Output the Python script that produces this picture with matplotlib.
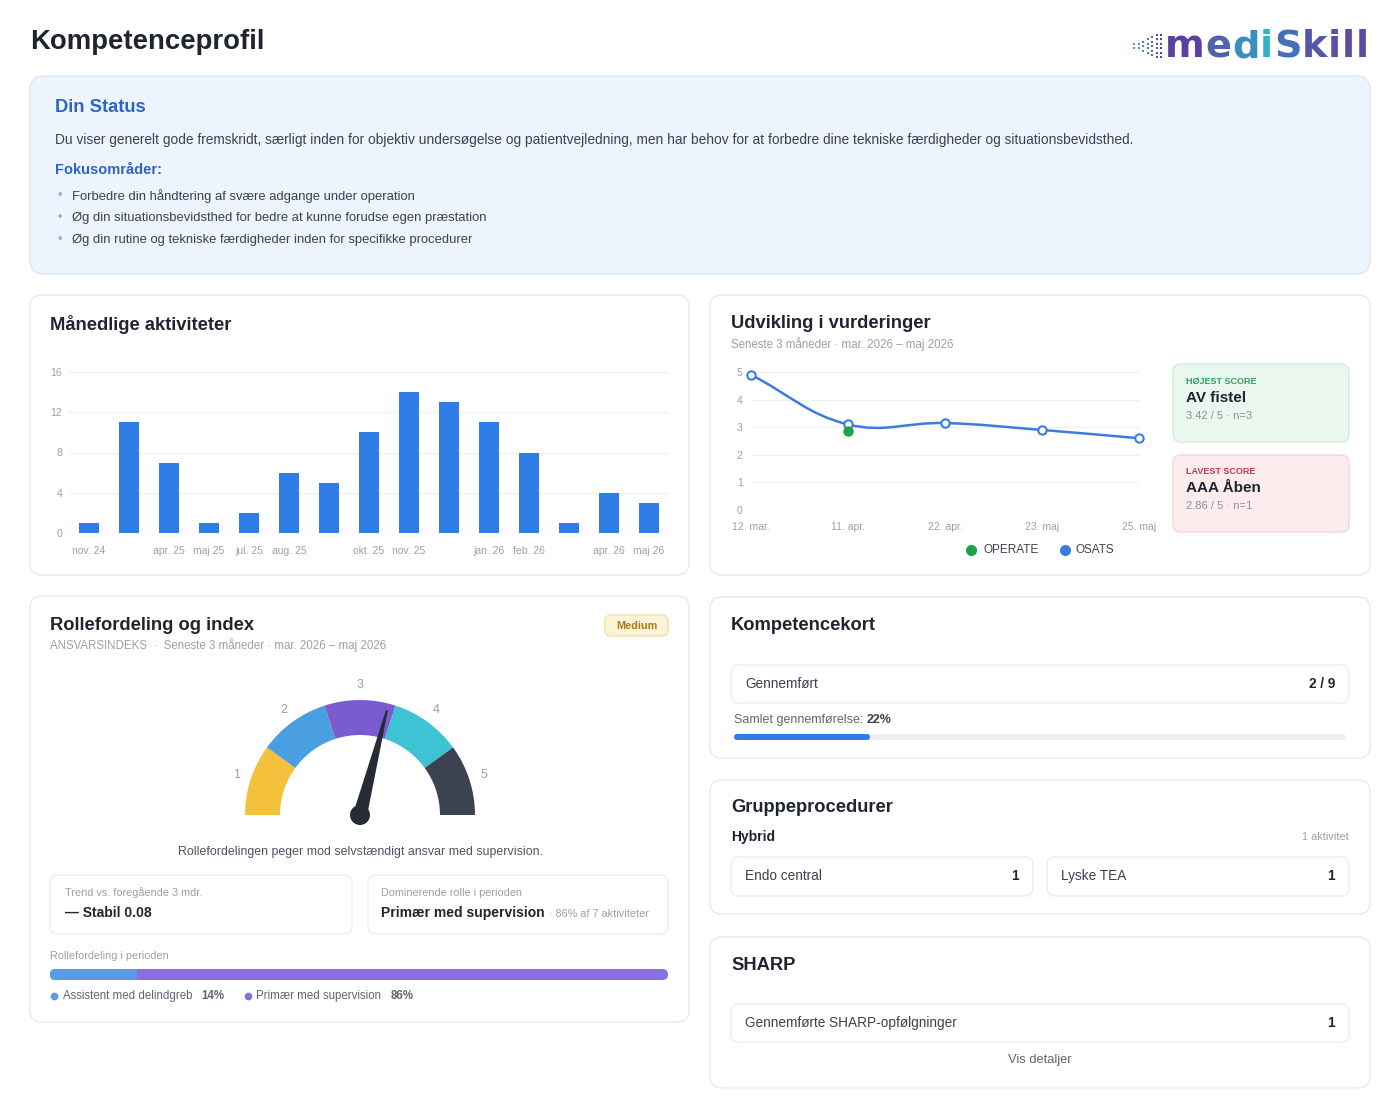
import numpy as np
import matplotlib.pyplot as plt
from matplotlib.patches import FancyBboxPatch, Wedge, Polygon, Circle, PathPatch, Rectangle
from matplotlib.path import Path

plt.rcParams['font.family'] = ['Liberation Sans', 'DejaVu Sans']

# ---- data ----
status_text = ("Du viser generelt gode fremskridt, særligt inden for objektiv undersøgelse og "
               "patientvejledning, men har behov for at forbedre dine tekniske færdigheder og "
               "situationsbevidsthed.")
focus_items = ["Forbedre din håndtering af svære adgange under operation",
               "Øg din situationsbevidsthed for bedre at kunne forudse egen præstation",
               "Øg din rutine og tekniske færdigheder inden for specifikke procedurer"]

month_labels = ['nov. 24', '', 'apr. 25', 'maj 25', 'jul. 25', 'aug. 25', '', 'okt. 25',
                'nov. 25', '', 'jan. 26', 'feb. 26', '', 'apr. 26', 'maj 26']
month_counts = [1, 11, 7, 1, 2, 6, 5, 10, 14, 13, 11, 8, 1, 4, 3]

eval_dates = ['12. mar.', '11. apr.', '22. apr.', '23. maj', '25. maj']
osats_scores = [4.9, 3.1, 3.15, 2.9, 2.6]
operate_idx = [1]
operate_scores = [2.85]

best_proc, best_score, best_n = 'AV fistel', 3.42, 3
worst_proc, worst_score, worst_n = 'AAA Åben', 2.86, 1

gauge_levels = [1, 2, 3, 4, 5]
gauge_colors = ['#f4c13d', '#4a9fe0', '#7a5bd0', '#3dc3d3', '#3b4252']
responsibility_index = 3.4
trend_value = 0.08

role_names = ['Assistent med delindgreb', 'Primær med supervision']
role_share = [14, 86]
role_colors = ['#5b9be6', '#8a6fe0']
n_activities = 7

cards_done, cards_total = 2, 9
group_name = 'Hybrid'
group_procs = ['Endo central', 'Lyske TEA']
group_counts = [1, 1]
sharp_count = 1

# ---- colours ----
DARK = '#1f2430'
BODY = '#3a4150'
GRAY = '#9aa0a8'
MID = '#5f6672'
BLUE = '#2f7de8'
EDGE = '#e6e9ee'

W, H = 1400, 1115
fig = plt.figure(figsize=(14, 11.15), dpi=100)
bg = fig.add_axes([0, 0, 1, 1])
bg.set_xlim(0, W)
bg.set_ylim(H, 0)
bg.axis('off')
renderer = fig.canvas.get_renderer()


def card(x0, y0, x1, y1, fc='white', ec=EDGE, r=12, lw=1.0, z=1):
    p = FancyBboxPatch((x0, y0), x1 - x0, y1 - y0,
                       boxstyle=f"round,pad=0,rounding_size={r}",
                       fc=fc, ec=ec, lw=lw, zorder=z)
    bg.add_patch(p)


def txt(x, y, s, size=10, color=BODY, weight='normal', ha='left', **kw):
    return bg.text(x, y, s, fontsize=size, color=color, fontweight=weight,
                   ha=ha, va='center', zorder=5, **kw)


def width(t):
    return t.get_window_extent(renderer=renderer).width


# ---- header ----
txt(30, 42, 'Kompetenceprofil', size=19.8, color=DARK, weight='bold')

# logo: dot grid + lettering
dot_heights = [2, 2, 3, 4, 5, 6, 6]
for i, h in enumerate(dot_heights):
    ys = 46 + 4.5 * (np.arange(h) - (h - 1) / 2)
    f = i / (len(dot_heights) - 1)
    rgb = (1 - f) * np.array([0.17, 0.71, 0.78]) + f * np.array([0.37, 0.25, 0.62])
    bg.scatter([1134 + 4.5 * i] * h, ys, s=4, marker='s', color=rgb, zorder=5, lw=0)
logo_parts = [('m', '#5d3f9f'), ('e', '#4f63ad'), ('d', '#3b8fbd'), ('i', '#2db3c4'),
              ('S', '#4670b6'), ('k', '#5457a8'), ('i', '#5b4ea3'), ('l', '#5e4aa2'), ('l', '#5e4aa2')]
lx = 1165
for ch, c in logo_parts:
    t = bg.text(lx, 57, ch, fontsize=27.5, fontweight='bold', family='DejaVu Sans',
                color=c, ha='left', va='baseline', zorder=5)
    lx += width(t) + 0.6

# ---- Din Status ----
card(30, 76, 1370, 274, fc='#eef4fe', ec='#d9e6fb', r=14)
txt(55, 108, 'Din Status', size=13.2, color='#2b66c6', weight='bold')
txt(55, 140, status_text, size=9.9, color=BODY)
txt(55, 170, 'Fokusområder:', size=10.5, color='#2b66c6', weight='bold')
for k, item in enumerate(focus_items):
    yy = 196 + 22 * k
    txt(57, yy, '•', size=9, color='#8fb0e0')
    txt(72, yy, item, size=9.4, color=BODY)

# ---- Månedlige aktiviteter ----
card(30, 295, 689, 575)
txt(50, 324, 'Månedlige aktiviteter', size=13.2, color=DARK, weight='bold')
ax1 = fig.add_axes([69 / W, 1 - 533 / H, 600 / W, 161 / H])
ax1.bar(range(len(month_counts)), month_counts, width=0.5, color=BLUE, zorder=3)
ax1.set_xlim(-0.5, len(month_counts) - 0.5)
ax1.set_ylim(0, 16)
ax1.set_yticks([0, 4, 8, 12, 16])
ax1.set_xticks(range(len(month_labels)))
ax1.set_xticklabels(month_labels)
ax1.grid(axis='y', color='#f0f1f3', lw=1, zorder=0)
for s in ax1.spines.values():
    s.set_visible(False)
ax1.tick_params(length=0, labelsize=7.5, labelcolor=GRAY)
ax1.tick_params(axis='x', pad=9)
ax1.tick_params(axis='y', pad=5)
ax1.patch.set_alpha(0)

# ---- Udvikling i vurderinger ----
card(710, 295, 1370, 575)
txt(731, 324, 'Udvikling i vurderinger', size=13.2, color=DARK, weight='bold')
txt(731, 344, 'Seneste 3 måneder · mar. 2026 – maj 2026', size=8.3, color=GRAY)
ax2 = fig.add_axes([751 / W, 1 - 510 / H, 388 / W, 138 / H])
ax2.set_xlim(0, 4)
ax2.set_ylim(0, 5)


def spline_path(xs, ys, sx, sy, tension=0.4):
    px = np.asarray(xs, float) * sx
    py = np.asarray(ys, float) * sy
    n = len(px)
    ctrl = []
    for i in range(n):
        a = max(i - 1, 0)
        b = min(i + 1, n - 1)
        d01 = np.hypot(px[i] - px[a], py[i] - py[a])
        d12 = np.hypot(px[b] - px[i], py[b] - py[i])
        tot = d01 + d12
        s01 = d01 / tot if tot else 0
        s12 = d12 / tot if tot else 0
        dx, dy = px[b] - px[a], py[b] - py[a]
        ctrl.append(((px[i] - tension * s01 * dx, py[i] - tension * s01 * dy),
                     (px[i] + tension * s12 * dx, py[i] + tension * s12 * dy)))
    verts = [(px[0], py[0])]
    codes = [Path.MOVETO]
    for i in range(n - 1):
        verts += [ctrl[i][1], ctrl[i + 1][0], (px[i + 1], py[i + 1])]
        codes += [Path.CURVE4] * 3
    verts = [(x / sx, y / sy) for x, y in verts]
    return Path(verts, codes)


xi = np.arange(len(eval_dates))
ax2.add_patch(PathPatch(spline_path(xi, osats_scores, 97, 27.6), fc='none',
                        ec='#3b7ddd', lw=1.8, zorder=3))
ax2.plot(xi, osats_scores, 'o', ms=6, mfc='white', mec='#3b7ddd', mew=1.5,
         zorder=4, clip_on=False)
ax2.plot(operate_idx, operate_scores, 'o', ms=6.5, color='#1fa24a', zorder=5, clip_on=False)
ax2.set_xticks(xi)
ax2.set_xticklabels(eval_dates)
ax2.set_yticks(range(6))
ax2.grid(axis='y', color='#f0f1f3', lw=1, zorder=0)
for s in ax2.spines.values():
    s.set_visible(False)
ax2.tick_params(length=0, labelsize=7.5, labelcolor=GRAY)
ax2.tick_params(axis='x', pad=9)
ax2.tick_params(axis='y', pad=6)
ax2.patch.set_alpha(0)

bg.plot([971], [550], 'o', ms=7, color='#1fa24a', zorder=5)
txt(983, 550, 'OPERATE', size=8.5, color=BODY)
bg.plot([1065], [550], 'o', ms=7, color='#3b7ddd', zorder=5)
txt(1075, 550, 'OSATS', size=8.5, color=BODY)

card(1173, 364, 1349, 442, fc='#eaf7ef', ec='#d2ecdb', r=8)
txt(1186, 381, 'HØJEST SCORE', size=6.5, color='#2f9e5f', weight='bold')
txt(1186, 398, best_proc, size=11, color=DARK, weight='bold')
txt(1186, 416, f'{best_score:.2f} / 5 · n={best_n}', size=8, color='#8a9099')
card(1173, 455, 1349, 532, fc='#fdecee', ec='#f6d3d8', r=8)
txt(1186, 471, 'LAVEST SCORE', size=6.5, color='#c23b4e', weight='bold')
txt(1186, 488, worst_proc, size=11, color=DARK, weight='bold')
txt(1186, 506, f'{worst_score:.2f} / 5 · n={worst_n}', size=8, color='#8a9099')

# ---- Rollefordeling og index ----
card(30, 596, 689, 1022)
txt(50, 625, 'Rollefordeling og index', size=13.2, color=DARK, weight='bold')
txt(50, 645, 'ANSVARSINDEKS  ·  Seneste 3 måneder · mar. 2026 – maj 2026', size=8.3, color=GRAY)
card(605, 615, 668, 636, fc='#fdf3d8', ec='#f3e0a6', r=6)
txt(636.5, 626, 'Medium', size=7.8, color='#b07a10', weight='bold', ha='center')

gx = fig.add_axes([200 / W, 1 - 840 / H, 320 / W, 180 / H])
gx.set_xlim(-160, 160)
gx.set_ylim(-25, 155)
gx.axis('off')
step = 180 / len(gauge_levels)
for i, (lvl, col) in enumerate(zip(gauge_levels, gauge_colors)):
    gx.add_patch(Wedge((0, 0), 115, 180 - (i + 1) * step, 180 - i * step, width=35,
                       fc=col, ec='none'))
    mid = np.radians(180 - (i + 0.5) * step)
    gx.text(130 * np.cos(mid), 130 * np.sin(mid), str(lvl), fontsize=9, color=GRAY,
            ha='center', va='center')
ang = np.radians(180 - (responsibility_index - 0.5) * step)
ux, uy = np.cos(ang), np.sin(ang)
nx, ny = -uy, ux
gx.add_patch(Polygon([(7 * nx, 7 * ny), (108 * ux + 1 * nx, 108 * uy + 1 * ny),
                      (108 * ux - 1 * nx, 108 * uy - 1 * ny), (-7 * nx, -7 * ny)],
                     closed=True, fc='#262b35', ec='none'))
gx.add_patch(Circle((0, 0), 10, fc='#262b35', ec='none'))

txt(360, 852, 'Rollefordelingen peger mod selvstændigt ansvar med supervision.',
    size=8.9, color='#4b5563', ha='center')

card(50, 875, 352, 934, r=8, ec='#eceef1')
txt(65, 893, 'Trend vs. foregående 3 mdr.', size=7.8, color=GRAY)
txt(65, 913, f'— Stabil {trend_value:.2f}', size=10, color=DARK, weight='bold')
card(368, 875, 668, 934, r=8, ec='#eceef1')
txt(381, 893, 'Dominerende rolle i perioden', size=7.8, color=GRAY)
dom = int(np.argmax(role_share))
t = txt(381, 913, role_names[dom], size=10, color=DARK, weight='bold')
txt(381 + width(t) + 4, 914, f'· {role_share[dom]}% af {n_activities} aktiviteter', size=7.8, color=GRAY)

txt(50, 956, 'Rollefordeling i perioden', size=7.8, color=GRAY)
bx0, bx1, by0, bh = 50, 668, 969, 11
card(bx0, by0, bx1, by0 + bh, fc=role_colors[1], ec='none', r=5.5, z=2)
bw = (bx1 - bx0) * role_share[0] / 100
card(bx0, by0, bx0 + bw, by0 + bh, fc=role_colors[0], ec='none', r=5.5, z=3)
bg.add_patch(Rectangle((bx0 + bw - 6, by0), 6, bh, fc=role_colors[0], ec='none', zorder=3))

lx = 54
for name, share, col in zip(role_names, role_share, role_colors):
    bg.plot([lx], [996], 'o', ms=4.5, color=col, zorder=5)
    t = txt(lx + 9, 996, name, size=8.3, color=MID)
    t2 = txt(lx + 9 + width(t) + 9, 996, f'{share}%', size=8.3, color=MID, weight='bold')
    lx = lx + 9 + width(t) + 9 + width(t2) + 23

# ---- Kompetencekort ----
card(710, 597, 1370, 758)
txt(731, 625, 'Kompetencekort', size=13.2, color=DARK, weight='bold')
card(731, 665, 1349, 703, r=8, ec='#eceef1')
txt(745, 684, 'Gennemført', size=9.8, color=BODY)
txt(1335, 684, f'{cards_done} / {cards_total}', size=9.8, color=DARK, weight='bold', ha='right')
pct = round(100 * cards_done / cards_total)
t = txt(734, 720, 'Samlet gennemførelse: ', size=9, color=MID)
txt(734 + width(t), 720, f'{pct}%', size=9, color=BODY, weight='bold')
card(734, 734, 1346, 740, fc='#eeeff1', ec='none', r=3)
card(734, 734, 734 + 612 * cards_done / cards_total, 740, fc=BLUE, ec='none', r=3, z=2)

# ---- Gruppeprocedurer ----
card(710, 780, 1370, 914)
txt(731, 808, 'Gruppeprocedurer', size=13.2, color=DARK, weight='bold')
txt(731, 837, group_name, size=10, color=DARK, weight='bold')
txt(1349, 837, f'{sum(group_counts) // len(group_counts)} aktivitet', size=7.8, color=GRAY, ha='right')
for k, (proc, cnt) in enumerate(zip(group_procs, group_counts)):
    x0 = 731 + 316 * k
    card(x0, 857, x0 + 302, 896, r=8, ec='#eceef1')
    txt(x0 + 14, 876, proc, size=9.8, color=BODY)
    txt(x0 + 288, 876, str(cnt), size=9.8, color=DARK, weight='bold', ha='right')

# ---- SHARP ----
card(710, 937, 1370, 1088)
txt(731, 965, 'SHARP', size=13.2, color=DARK, weight='bold')
card(731, 1004, 1349, 1042, r=8, ec='#eceef1')
txt(745, 1023, 'Gennemførte SHARP-opfølgninger', size=9.8, color=BODY)
txt(1335, 1023, str(sharp_count), size=9.8, color=DARK, weight='bold', ha='right')
txt(1040, 1060, 'Vis detaljer', size=9.3, color=MID, ha='center')

fig.savefig('out.png', dpi=100, facecolor='white')
